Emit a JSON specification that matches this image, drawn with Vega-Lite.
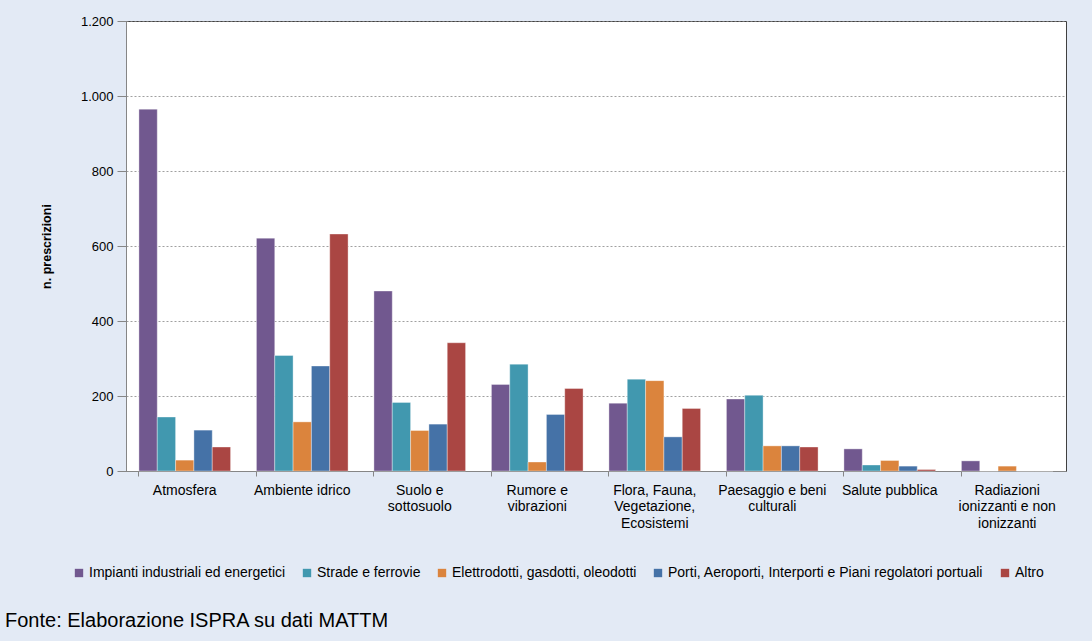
{
  "$schema": "https://vega.github.io/schema/vega-lite/v6.json",
  "width": 940,
  "height": 450,
  "autosize": "none",
  "padding": {"left": 126, "top": 21, "right": 26, "bottom": 170},
  "background": "#E3EAF5",
  "config": {
    "font": "Liberation Sans",
    "locale": {"number": {"decimal": ",", "thousands": ".", "grouping": [3], "currency": ["€", ""]}},
    "view": {"fill": "white", "stroke": "#404040", "strokeWidth": 1}
  },
  "title": {
    "text": "Fonte: Elaborazione ISPRA su dati MATTM",
    "orient": "bottom",
    "anchor": "start",
    "frame": "group",
    "dx": -121,
    "offset": 31,
    "font": "Liberation Sans",
    "fontSize": 20,
    "fontWeight": "normal",
    "color": "#000"
  },
  "data": {"values": [
    {"cat": "Atmosfera", "tipo": "Impianti industriali ed energetici", "n": 965},
    {"cat": "Atmosfera", "tipo": "Strade e ferrovie", "n": 144},
    {"cat": "Atmosfera", "tipo": "Elettrodotti, gasdotti, oleodotti", "n": 29},
    {"cat": "Atmosfera", "tipo": "Porti, Aeroporti, Interporti e Piani regolatori portuali", "n": 109},
    {"cat": "Atmosfera", "tipo": "Altro", "n": 64},
    {"cat": "Ambiente idrico", "tipo": "Impianti industriali ed energetici", "n": 621},
    {"cat": "Ambiente idrico", "tipo": "Strade e ferrovie", "n": 308},
    {"cat": "Ambiente idrico", "tipo": "Elettrodotti, gasdotti, oleodotti", "n": 131},
    {"cat": "Ambiente idrico", "tipo": "Porti, Aeroporti, Interporti e Piani regolatori portuali", "n": 280},
    {"cat": "Ambiente idrico", "tipo": "Altro", "n": 632},
    {"cat": "Suolo e sottosuolo", "tipo": "Impianti industriali ed energetici", "n": 480},
    {"cat": "Suolo e sottosuolo", "tipo": "Strade e ferrovie", "n": 183},
    {"cat": "Suolo e sottosuolo", "tipo": "Elettrodotti, gasdotti, oleodotti", "n": 108},
    {"cat": "Suolo e sottosuolo", "tipo": "Porti, Aeroporti, Interporti e Piani regolatori portuali", "n": 125},
    {"cat": "Suolo e sottosuolo", "tipo": "Altro", "n": 342},
    {"cat": "Rumore e vibrazioni", "tipo": "Impianti industriali ed energetici", "n": 231},
    {"cat": "Rumore e vibrazioni", "tipo": "Strade e ferrovie", "n": 285},
    {"cat": "Rumore e vibrazioni", "tipo": "Elettrodotti, gasdotti, oleodotti", "n": 24},
    {"cat": "Rumore e vibrazioni", "tipo": "Porti, Aeroporti, Interporti e Piani regolatori portuali", "n": 151},
    {"cat": "Rumore e vibrazioni", "tipo": "Altro", "n": 220},
    {"cat": "Flora, Fauna, Vegetazione, Ecosistemi", "tipo": "Impianti industriali ed energetici", "n": 181},
    {"cat": "Flora, Fauna, Vegetazione, Ecosistemi", "tipo": "Strade e ferrovie", "n": 245},
    {"cat": "Flora, Fauna, Vegetazione, Ecosistemi", "tipo": "Elettrodotti, gasdotti, oleodotti", "n": 241},
    {"cat": "Flora, Fauna, Vegetazione, Ecosistemi", "tipo": "Porti, Aeroporti, Interporti e Piani regolatori portuali", "n": 91},
    {"cat": "Flora, Fauna, Vegetazione, Ecosistemi", "tipo": "Altro", "n": 167},
    {"cat": "Paesaggio e beni culturali", "tipo": "Impianti industriali ed energetici", "n": 192},
    {"cat": "Paesaggio e beni culturali", "tipo": "Strade e ferrovie", "n": 202},
    {"cat": "Paesaggio e beni culturali", "tipo": "Elettrodotti, gasdotti, oleodotti", "n": 67},
    {"cat": "Paesaggio e beni culturali", "tipo": "Porti, Aeroporti, Interporti e Piani regolatori portuali", "n": 67},
    {"cat": "Paesaggio e beni culturali", "tipo": "Altro", "n": 64},
    {"cat": "Salute pubblica", "tipo": "Impianti industriali ed energetici", "n": 59},
    {"cat": "Salute pubblica", "tipo": "Strade e ferrovie", "n": 16},
    {"cat": "Salute pubblica", "tipo": "Elettrodotti, gasdotti, oleodotti", "n": 28},
    {"cat": "Salute pubblica", "tipo": "Porti, Aeroporti, Interporti e Piani regolatori portuali", "n": 13},
    {"cat": "Salute pubblica", "tipo": "Altro", "n": 4},
    {"cat": "Radiazioni ionizzanti e non ionizzanti", "tipo": "Impianti industriali ed energetici", "n": 27},
    {"cat": "Radiazioni ionizzanti e non ionizzanti", "tipo": "Strade e ferrovie", "n": 0},
    {"cat": "Radiazioni ionizzanti e non ionizzanti", "tipo": "Elettrodotti, gasdotti, oleodotti", "n": 13},
    {"cat": "Radiazioni ionizzanti e non ionizzanti", "tipo": "Porti, Aeroporti, Interporti e Piani regolatori portuali", "n": 0},
    {"cat": "Radiazioni ionizzanti e non ionizzanti", "tipo": "Altro", "n": 0}
  ]},
  "mark": {"type": "bar", "stroke": "white", "strokeWidth": 0.6, "strokeOpacity": 0.6},
  "encoding": {
    "x": {
      "field": "cat",
      "type": "nominal",
      "sort": null,
      "scale": {"paddingInner": 0.22, "paddingOuter": 0.11},
      "axis": {
        "title": null,
        "labelAngle": 0,
        "labelFontSize": 14,
        "labelColor": "#000",
        "labelPadding": 7,
        "labelLineHeight": 16.5,
        "bandPosition": 0,
        "tickSize": 5,
        "tickColor": "#868686",
        "domainColor": "#868686",
        "labelExpr": "datum.value == 'Suolo e sottosuolo' ? ['Suolo e', 'sottosuolo'] : datum.value == 'Rumore e vibrazioni' ? ['Rumore e', 'vibrazioni'] : datum.value == 'Flora, Fauna, Vegetazione, Ecosistemi' ? ['Flora, Fauna,', 'Vegetazione,', 'Ecosistemi'] : datum.value == 'Paesaggio e beni culturali' ? ['Paesaggio e beni', 'culturali'] : datum.value == 'Radiazioni ionizzanti e non ionizzanti' ? ['Radiazioni', 'ionizzanti e non', 'ionizzanti'] : datum.value"
      }
    },
    "xOffset": {"field": "tipo", "type": "nominal", "sort": null, "scale": {"paddingInner": 0, "paddingOuter": 0}},
    "y": {
      "field": "n",
      "type": "quantitative",
      "scale": {"domain": [0, 1200], "nice": false},
      "axis": {
        "title": "n. prescrizioni",
        "titleFontSize": 12.5,
        "titleFontWeight": "bold",
        "titleColor": "#000",
        "titlePadding": 27,
        "values": [0, 200, 400, 600, 800, 1000, 1200],
        "format": ",d",
        "labelFontSize": 13,
        "labelColor": "#000",
        "labelPadding": 4,
        "tickSize": 9,
        "tickColor": "#868686",
        "domainColor": "#868686",
        "gridColor": "#888888",
        "gridDash": [2, 2],
        "gridWidth": 0.8
      }
    },
    "color": {
      "field": "tipo",
      "type": "nominal",
      "sort": null,
      "scale": {
        "domain": ["Impianti industriali ed energetici", "Strade e ferrovie", "Elettrodotti, gasdotti, oleodotti", "Porti, Aeroporti, Interporti e Piani regolatori portuali", "Altro"],
        "range": ["#71588F", "#4198AF", "#DB843D", "#4572A7", "#AA4643"]
      },
      "legend": {
        "title": null,
        "orient": "none",
        "direction": "horizontal",
        "legendX": -54,
        "legendY": 545,
        "symbolType": "square",
        "symbolSize": 70,
        "symbolStrokeWidth": 0,
        "labelFontSize": 14,
        "labelColor": "#000",
        "labelOffset": 3,
        "columnPadding": 14,
        "labelLimit": 500
      }
    }
  }
}
